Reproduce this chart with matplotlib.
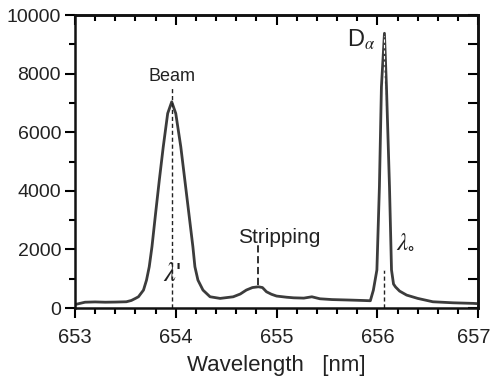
import matplotlib
matplotlib.use("Agg")
import matplotlib.pyplot as plt
from matplotlib.ticker import MultipleLocator, NullFormatter
from matplotlib.transforms import ScaledTranslation

plt.rcParams['font.family'] = ['Liberation Sans', 'DejaVu Sans']
plt.rcParams['mathtext.fontset'] = 'stix'

wavelength = [653.00, 653.05, 653.10, 653.20, 653.30, 653.40, 653.51, 653.56, 653.60,
              653.63, 653.68, 653.71, 653.737, 653.764, 653.80, 653.837, 653.876, 653.92,
              653.96, 654.00, 654.05, 654.09, 654.13, 654.17, 654.19, 654.22, 654.27,
              654.34, 654.44, 654.57, 654.64,
              654.70, 654.76, 654.82, 654.86, 654.90, 654.95, 655.00, 655.10, 655.17,
              655.27, 655.35, 655.43, 655.55, 655.73, 655.85, 655.93, 655.96, 655.995,
              656.02, 656.04, 656.07, 656.09, 656.12, 656.14, 656.16, 656.18, 656.22,
              656.29, 656.40, 656.55, 656.75, 656.95, 657.00]
intensity = [120, 160, 200, 210, 200, 205, 215, 260, 330,
             386, 614, 955, 1410, 2092, 3232, 4370, 5505, 6645,
             7040, 6645, 5505, 4370, 3232, 2092, 1410, 955, 614,
             386, 330, 385, 480,
             615, 700, 727, 700, 556, 470, 410, 370, 350,
             340, 385, 317, 290, 273, 260, 250, 610, 1300,
             4140, 7550, 9380, 7550, 4140, 1300, 820, 720, 580,
             443, 330, 215, 180, 160, 150]

tick_x = [653, 654, 655, 656, 657]
tick_y = [0, 2000, 4000, 6000, 8000, 10000]

beam_wl = 653.96
strip_wl = 654.82
dalpha_wl = 656.07

fig = plt.figure(figsize=(4.93, 3.78), dpi=100)
ax = fig.add_axes([0.152, 0.185, 0.818, 0.775])

ax.plot(wavelength, intensity, color='#3c3c3c', lw=2.0, solid_joinstyle='round')

# dashed marker lines
ax.plot([beam_wl, beam_wl], [0, 7580], color='#222222', lw=1.0, ls=(0, (3, 2)))
ax.plot([strip_wl, strip_wl], [785, 2150], color='#222222', lw=1.3, ls=(0, (4, 2)))
ax.plot([dalpha_wl, dalpha_wl], [0, 1300], color='#222222', lw=1.0, ls=(0, (3, 2)))
ax.plot([dalpha_wl, dalpha_wl], [1300, 9300], color='white', lw=0.8, ls=(0, (3, 2)))

ax.text(beam_wl, 7750, 'Beam', ha='center', va='baseline', fontsize=13, color='#222222')
ax.text(655.03, 2220, 'Stripping', ha='center', va='baseline', fontsize=15, color='#222222')
ax.text(beam_wl, 1150, r"$\lambda$'", ha='center', va='center', fontsize=19, color='#222222')
ax.text(656.18, 2250, r'$\lambda_{\circ}$', ha='left', va='center', fontsize=18,
        color='#222222')
ax.text(655.70, 9150, r'D$_{\alpha}$', ha='left', va='center', fontsize=17, color='#222222')

ax.set_xlim(653, 657)
ax.set_ylim(0, 10000)
ax.set_xticks(tick_x)
ax.set_yticks(tick_y)
ax.xaxis.set_minor_locator(MultipleLocator(0.2))
ax.yaxis.set_minor_locator(MultipleLocator(1000))
ax.tick_params(axis='both', which='major', direction='out', length=7, width=1.5,
               labelcolor='#222222', top=False, right=False)
ax.tick_params(axis='x', which='major', labelsize=14.5, pad=7)
ax.tick_params(axis='y', which='major', labelsize=14, pad=3)
ax.tick_params(axis='both', which='minor', direction='out', length=4, width=1.5,
               top=False, right=False)

ax.set_xlabel('Wavelength   [nm]', fontsize=16, color='#222222', labelpad=6)

# nudge the last x tick label so that it stays inside the figure
last = ax.get_xticklabels()[-1]
last.set_transform(last.get_transform() + ScaledTranslation(-4 / 100, 0, fig.dpi_scale_trans))

for s in ax.spines.values():
    s.set_linewidth(1.8)
    s.set_color('#111111')

secx = ax.secondary_xaxis('top')
secx.set_xticks(tick_x)
secx.xaxis.set_minor_locator(MultipleLocator(0.2))
secx.xaxis.set_major_formatter(NullFormatter())
secx.tick_params(which='major', direction='in', length=7, width=1.5)
secx.tick_params(which='minor', direction='in', length=4, width=1.5)
secx.spines['top'].set_linewidth(1.8)

secy = ax.secondary_yaxis('right')
secy.yaxis.set_major_locator(MultipleLocator(1000))
secy.yaxis.set_major_formatter(NullFormatter())
secy.tick_params(which='major', direction='in', length=7, width=1.5)
secy.spines['right'].set_linewidth(1.8)

fig.savefig('out.png', dpi=100)
